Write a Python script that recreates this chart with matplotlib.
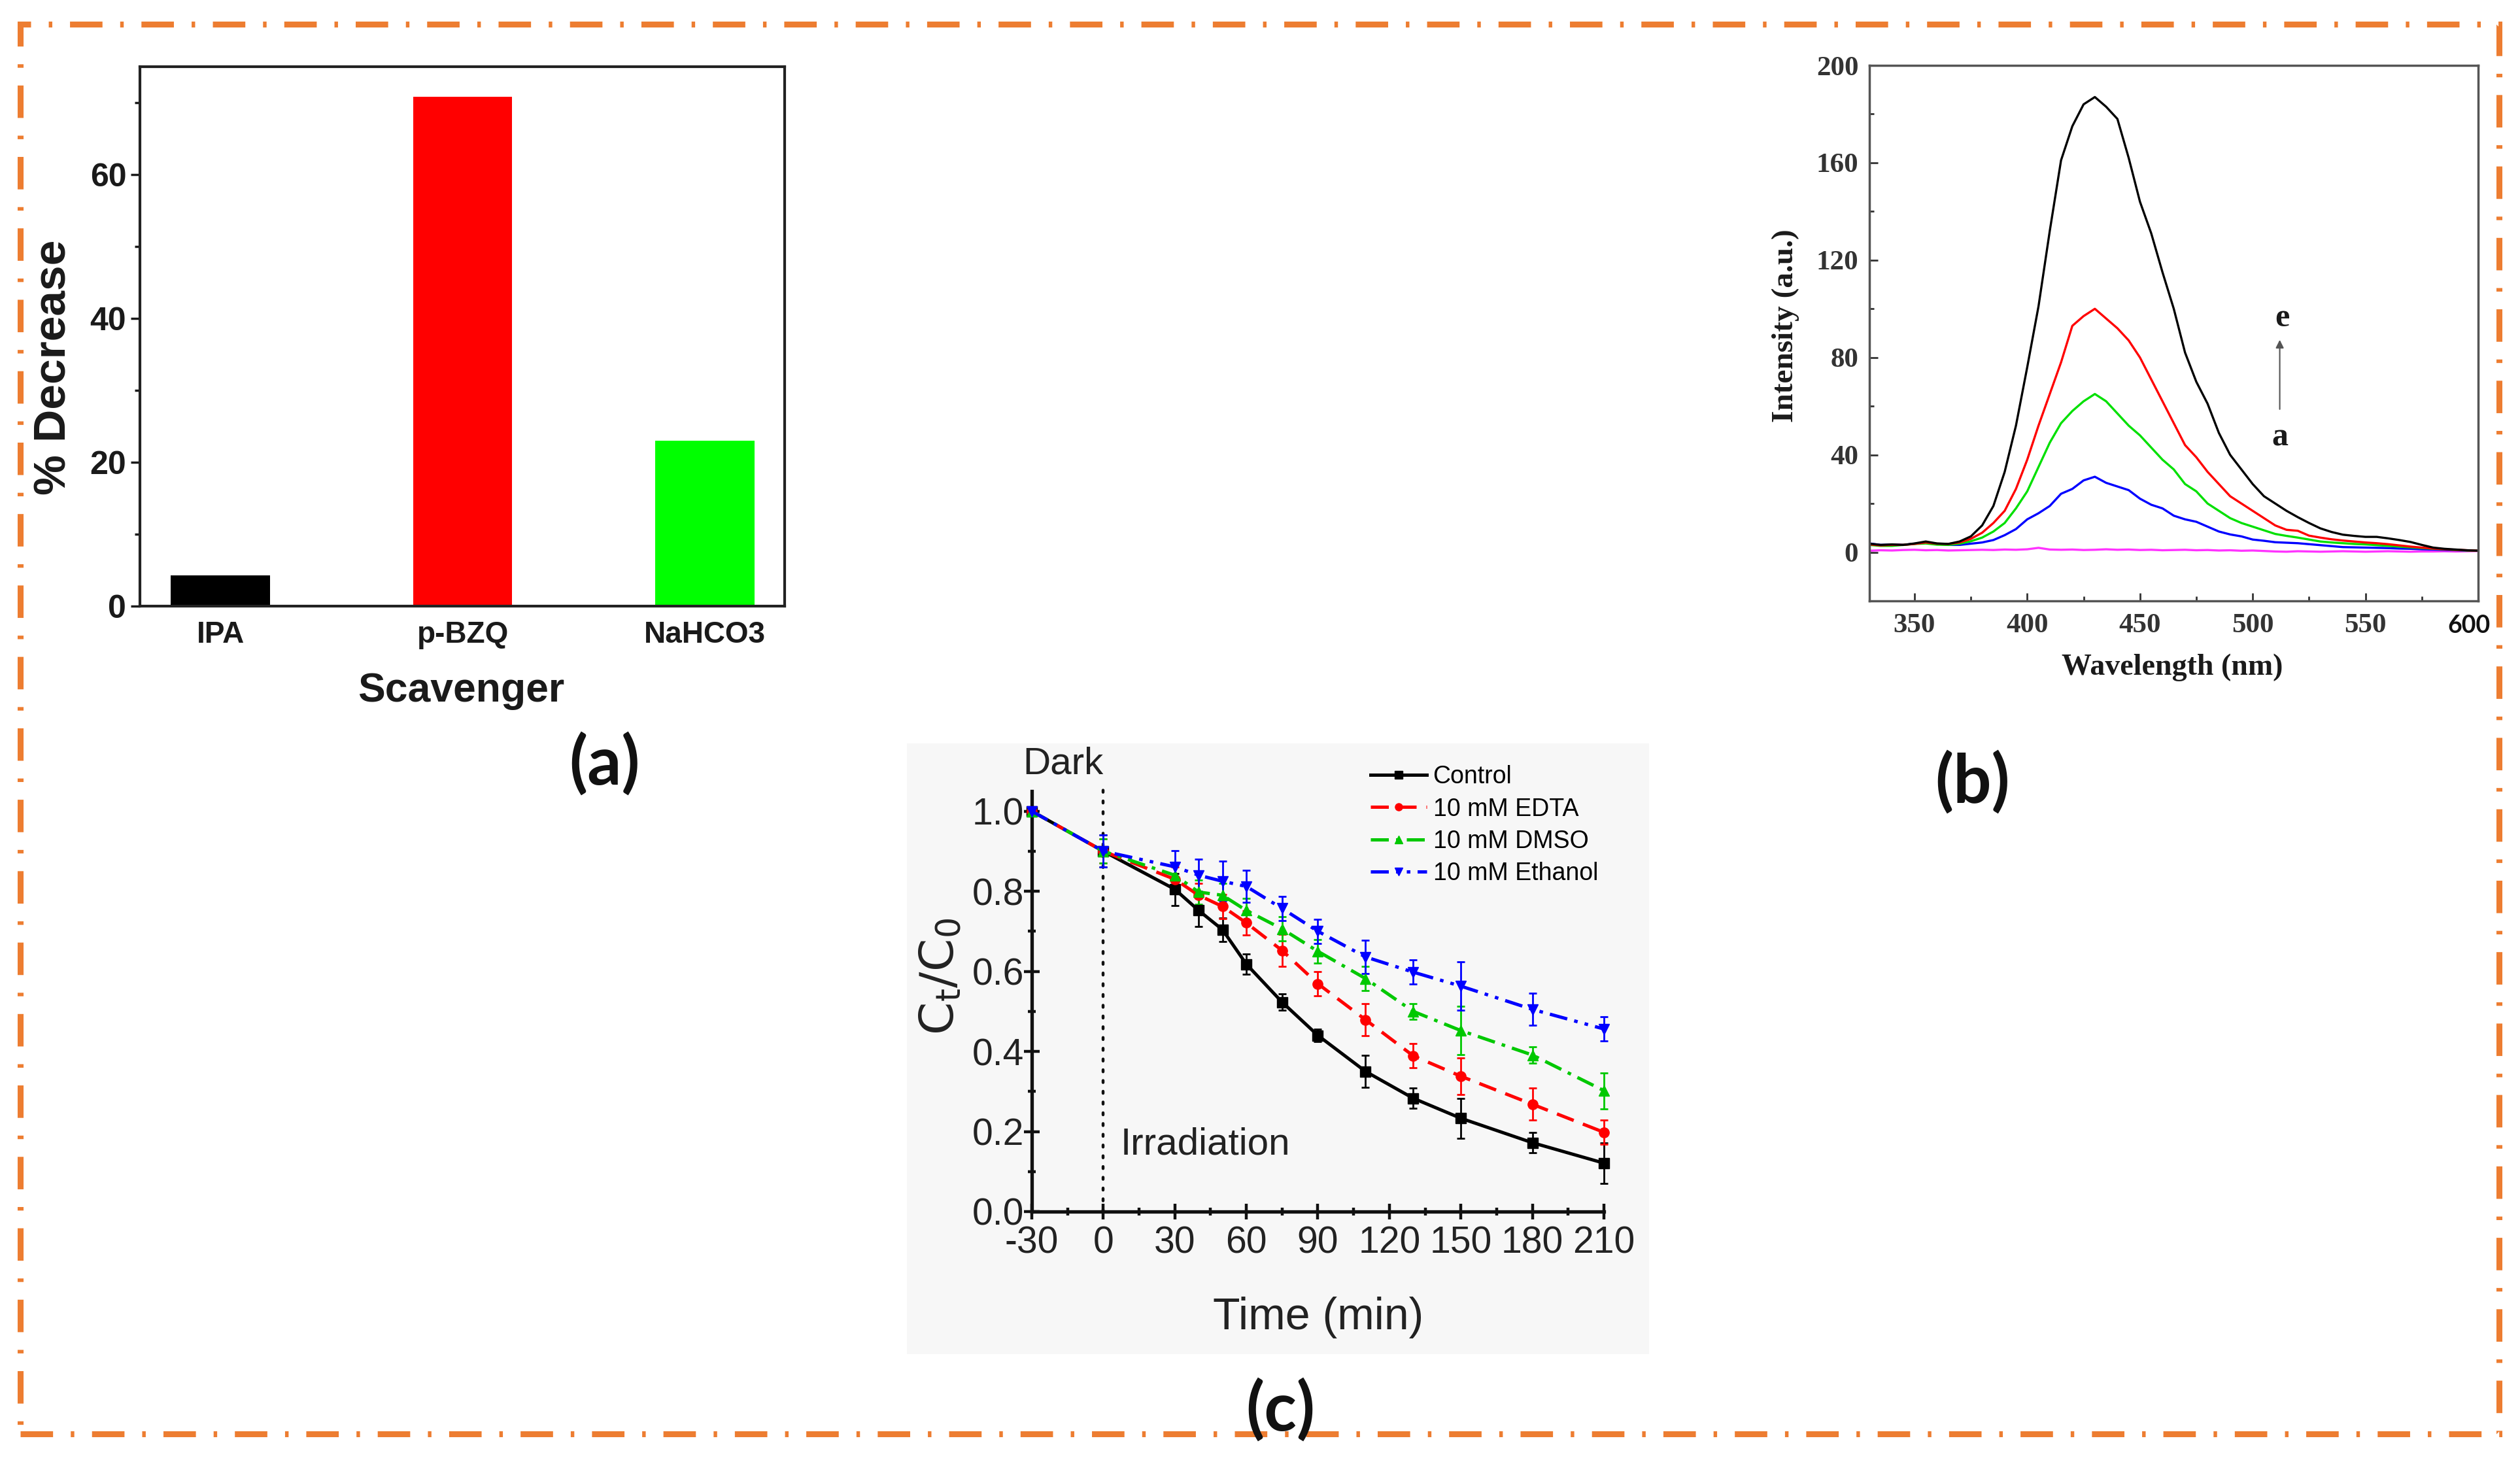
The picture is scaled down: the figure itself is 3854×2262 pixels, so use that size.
import matplotlib
matplotlib.use("Agg")
import matplotlib.pyplot as plt
from matplotlib.patches import Rectangle
from matplotlib.lines import Line2D

# ---------------- data ----------------
# (a) scavenger bar chart
scavengers = ["IPA", "p-BZQ", "NaHCO3"]
pct_decrease = [4.3, 70.8, 23.0]
bar_colors = ["#000000", "#ff0000", "#00ff00"]

# (b) fluorescence spectra a..e
wavelength = [330, 335, 340, 345, 350, 355, 360, 365, 370, 375, 380, 385, 390, 395,
              400, 405, 410, 415, 420, 425, 430, 435, 440, 445, 450, 455, 460, 465,
              470, 475, 480, 485, 490, 495, 500, 505, 510, 515, 520, 525, 530, 535,
              540, 545, 550, 555, 560, 565, 570, 575, 580, 585, 590, 595, 600]
spec_e = [3.5, 3.0, 3.2, 3.0, 3.6, 4.4, 3.6, 3.4, 4.4, 6.5, 11, 19, 33, 52,
          76, 101, 132, 161, 175, 184, 187, 183, 178, 162, 144, 131, 115, 100,
          82, 70, 61, 49, 40, 34, 28, 23, 20, 17, 14.4, 12, 9.8, 8.3,
          7.2, 6.7, 6.3, 6.3, 5.7, 5.0, 4.2, 3.0, 1.9, 1.4, 1.1, 0.8, 0.6]
spec_d = [3.2, 2.8, 3.0, 3.0, 3.4, 4.0, 3.5, 3.4, 4.0, 5.5, 8, 12, 17, 26,
          38, 52, 65, 78, 93, 97, 100, 96, 92, 87, 80, 71, 62, 53,
          44, 39, 33, 28, 23, 20, 17, 14, 11, 9.2, 8.8, 6.8, 6.0, 5.3,
          4.8, 4.4, 4.0, 3.7, 3.3, 2.8, 2.3, 1.9, 1.5, 1.2, 1.0, 0.8, 0.6]
spec_c = [3.0, 2.6, 2.6, 3.0, 3.4, 3.6, 3.1, 3.0, 3.5, 4.5, 6.0, 8.5, 12, 18,
          25, 35, 45, 53, 58, 62, 65, 62, 57, 52, 48, 43, 38, 34,
          28, 25, 20, 17, 14, 12, 10.5, 9.0, 7.5, 6.7, 6.0, 5.2, 4.4, 4.0,
          3.7, 3.4, 3.2, 2.9, 2.6, 2.3, 2.0, 1.7, 1.4, 1.2, 0.9, 0.7, 0.6]
spec_b = [3.6, 3.0, 3.1, 3.0, 3.5, 4.0, 3.4, 3.0, 3.0, 3.5, 4.0, 5.0, 7.0, 9.5,
          13.5, 16, 19, 24, 26, 29.5, 31, 28.5, 27, 25.5, 22, 19.5, 18, 15,
          13.5, 12.5, 10.5, 8.5, 7.3, 6.5, 5.2, 4.7, 4.1, 3.9, 3.7, 3.3, 2.9, 2.5,
          2.1, 2.0, 1.9, 1.8, 1.7, 1.5, 1.4, 1.2, 1.1, 0.9, 0.8, 0.7, 0.6]
spec_a = [0.6, 0.8, 0.7, 0.9, 1.0, 0.8, 0.9, 0.7, 0.8, 0.9, 1.0, 0.9, 1.1, 1.0,
          1.2, 1.8, 1.1, 1.0, 1.1, 0.9, 1.0, 1.2, 1.0, 1.1, 0.9, 1.0, 0.8, 0.9,
          1.0, 0.8, 0.9, 0.7, 0.8, 0.6, 0.7, 0.5, 0.3, 0.2, 0.4, 0.3, 0.2, 0.3,
          0.4, 0.3, 0.2, 0.3, 0.4, 0.3, 0.2, 0.3, 0.3, 0.4, 0.3, 0.4, 0.5]

# (c) degradation kinetics
time_min = [-30, 0, 30, 40, 50, 60, 75, 90, 110, 130, 150, 180, 210]
control = [1.0, 0.90, 0.805, 0.752, 0.704, 0.618, 0.523, 0.44, 0.35, 0.283, 0.233, 0.172, 0.121]
control_err = [0.0, 0.04, 0.04, 0.04, 0.03, 0.025, 0.02, 0.015, 0.04, 0.025, 0.05, 0.025, 0.05]
edta = [1.0, 0.90, 0.83, 0.79, 0.762, 0.721, 0.652, 0.569, 0.479, 0.389, 0.338, 0.268, 0.198]
edta_err = [0.0, 0.03, 0.03, 0.03, 0.03, 0.03, 0.04, 0.03, 0.04, 0.03, 0.045, 0.04, 0.03]
dmso = [1.0, 0.90, 0.84, 0.798, 0.79, 0.752, 0.706, 0.65, 0.582, 0.50, 0.452, 0.391, 0.302]
dmso_err = [0.0, 0.03, 0.03, 0.03, 0.03, 0.03, 0.03, 0.03, 0.03, 0.02, 0.06, 0.02, 0.045]
ethanol = [1.0, 0.90, 0.861, 0.84, 0.825, 0.812, 0.757, 0.70, 0.636, 0.598, 0.563, 0.505, 0.456]
ethanol_err = [0.0, 0.04, 0.04, 0.04, 0.05, 0.04, 0.03, 0.03, 0.042, 0.03, 0.06, 0.04, 0.03]

# ---------------- figure ----------------
W, H = 3855, 2262
DPI = 100
plt.rcParams["mathtext.fontset"] = "custom"
plt.rcParams["mathtext.rm"] = "Liberation Sans"
plt.rcParams["mathtext.it"] = "Liberation Sans:italic"
fig = plt.figure(figsize=(W / DPI, H / DPI), dpi=DPI, facecolor="white")


def rect(l, t, r, b):
    return [l / W, 1 - b / H, (r - l) / W, (b - t) / H]


def ftext(x, y, s, **kw):
    fig.text(x / W, 1 - y / H, s, **kw)


# light background of the pasted (c) picture
fig.add_artist(Rectangle((1387 / W, 1 - 2071 / H), (2522 - 1387) / W, (2071 - 1137) / H,
                         transform=fig.transFigure, facecolor="#f7f7f7",
                         edgecolor="none", zorder=0))

# orange dash-dot frame
fig.add_artist(Rectangle((31 / W, 1 - 2193 / H), (3822 - 31) / W, (2193 - 37) / H,
                         transform=fig.transFigure, fill=False, edgecolor="#ED7D31",
                         linewidth=6.5, linestyle=(0, (5.5, 3.0, 0.6, 3.0)), zorder=1))

# ---------------- (a) ----------------
SANS = "Liberation Sans"
axa = fig.add_axes(rect(214, 102, 1200, 927))
xa = list(range(len(scavengers)))
axa.bar(xa, pct_decrease, width=0.41, color=bar_colors, edgecolor="none", zorder=2)
axa.set_xlim(-0.333, 2.33)
axa.set_ylim(0, 75)
axa.set_xticks(xa, labels=scavengers, fontsize=33, fontweight="bold", fontfamily=SANS)
axa.set_yticks([0, 20, 40, 60], labels=["0", "20", "40", "60"], fontsize=36,
               fontweight="bold", fontfamily=SANS)
axa.set_yticks([10, 30, 50, 70], minor=True)
axa.tick_params(axis="x", length=0, pad=16, colors="#1a1a1a")
axa.tick_params(axis="y", which="major", direction="out", length=10, width=2.5,
                pad=5, colors="#1a1a1a")
axa.tick_params(axis="y", which="minor", direction="out", length=6, width=2.5,
                colors="#1a1a1a")
for sp in axa.spines.values():
    sp.set_linewidth(3)
    sp.set_color("#222222")
ftext(83, 562, "% Decrease", rotation=90, ha="center", va="center", fontsize=50,
      fontweight="bold", fontfamily=SANS, color="#1a1a1a")
ftext(705, 1057, "Scavenger", ha="center", va="center", fontsize=45,
      fontweight="bold", fontfamily=SANS, color="#1a1a1a")

# ---------------- (b) ----------------
SERIF = "Liberation Serif"
axb = fig.add_axes(rect(2859, 100, 3790, 919))
axb.plot(wavelength, spec_a, color="#ff33ff", lw=2.4)
axb.plot(wavelength, spec_b, color="#0000ff", lw=2.4)
axb.plot(wavelength, spec_c, color="#00e000", lw=2.4)
axb.plot(wavelength, spec_d, color="#ff0000", lw=2.4)
axb.plot(wavelength, spec_e, color="#000000", lw=2.4)
axb.set_xlim(330, 600)
axb.set_ylim(-20, 200)
xt = [350, 400, 450, 500, 550]
axb.set_xticks(xt, labels=[str(v) for v in xt], fontsize=31, fontweight="bold",
               fontfamily=SERIF)
axb.set_xticks([375, 425, 475, 525, 575], minor=True)
yt = [0, 40, 80, 120, 160, 200]
axb.set_yticks(yt, labels=[str(v) for v in yt], fontsize=31, fontweight="bold",
               fontfamily=SERIF)
axb.set_yticks([20, 60, 100, 140, 180], minor=True)
axb.tick_params(which="major", direction="in", length=9, width=2, colors="#333333")
axb.tick_params(which="minor", direction="in", length=5, width=2, colors="#333333")
axb.tick_params(axis="x", pad=14)
axb.tick_params(axis="y", pad=12)
for sp in axb.spines.values():
    sp.set_linewidth(2.5)
    sp.set_color("#555555")
axb.text(513, 96, "e", ha="center", va="center", fontsize=36, fontweight="bold",
         fontfamily=SERIF, color="#1a1a1a")
axb.text(512, 47, "a", ha="center", va="center", fontsize=36, fontweight="bold",
         fontfamily=SERIF, color="#1a1a1a")
axb.annotate("", xy=(512, 88), xytext=(512, 58),
             arrowprops=dict(arrowstyle="-|>", color="#555555", lw=1.5,
                             mutation_scale=18))
ftext(3776, 957, "600", ha="center", va="center", fontsize=27, fontweight="bold",
      fontfamily="Lato", color="#111111")
ftext(3322, 1021, "Wavelength (nm)", ha="center", va="center", fontsize=33,
      fontweight="bold", fontfamily=SERIF, color="#1a1a1a")
ftext(2731, 498, "Intensity (a.u.)", rotation=90, ha="center", va="center",
      fontsize=34, fontweight="bold", fontfamily=SERIF, color="#1a1a1a")

# ---------------- (c) ----------------
axc = fig.add_axes(rect(1578, 1210, 2453, 1853))
axc.patch.set_alpha(0)
series = [
    (control, control_err, "#000000", "-", "s", "Control"),
    (edta, edta_err, "#ff0000", (0, (5.5, 3)), "o", "10 mM EDTA"),
    (dmso, dmso_err, "#00c800", (0, (5.5, 2.2, 1.1, 2.2)), "^", "10 mM DMSO"),
    (ethanol, ethanol_err, "#0000ff", (0, (5.5, 2.2, 1.1, 2.2, 1.1, 2.2)), "v",
     "10 mM Ethanol"),
]
handles = []
for vals, errs, col, ls, mk, lab in series:
    axc.errorbar(time_min, vals, yerr=errs, color=col, ecolor=col, elinewidth=2,
                 capsize=4.5, capthick=2, lw=3.6, linestyle=ls, marker=mk,
                 markersize=11, clip_on=False, zorder=3)
    handles.append(Line2D([], [], color=col, lw=3.6, linestyle=ls, marker=mk,
                          markersize=8, label=lab))
axc.axvline(0, ymin=0, ymax=1.07 / 1.05, color="#111111", lw=3.2,
            linestyle=(0, (0.7, 3.0)), dash_capstyle="round", clip_on=False, zorder=2)
axc.set_xlim(-30, 210)
axc.set_ylim(0, 1.05)
xc = [-30, 0, 30, 60, 90, 120, 150, 180, 210]
axc.set_xticks(xc, labels=[str(v) for v in xc], fontsize=41, fontfamily=SANS)
axc.set_xticks([-15, 15, 45, 75, 105, 135, 165, 195], minor=True)
yc = [0.0, 0.2, 0.4, 0.6, 0.8, 1.0]
axc.set_yticks(yc, labels=[f"{v:.1f}" for v in yc], fontsize=41, fontfamily=SANS)
axc.set_yticks([0.1, 0.3, 0.5, 0.7, 0.9], minor=True)
axc.tick_params(which="major", direction="inout", length=17, width=3.2,
                colors="#111111", labelcolor="#222222")
axc.tick_params(which="minor", direction="inout", length=9, width=3.2, colors="#111111")
axc.tick_params(axis="x", pad=7)
axc.tick_params(axis="y", pad=0)
axc.spines["top"].set_visible(False)
axc.spines["right"].set_visible(False)
for s in ("left", "bottom"):
    axc.spines[s].set_linewidth(3.8)
    axc.spines[s].set_color("#111111")
axc.legend(handles=handles, loc="upper left",
           bbox_to_anchor=(2096 / W, 1 - 1170 / H), bbox_transform=fig.transFigure,
           frameon=False, handlelength=2.3, handletextpad=0.25,
           labelspacing=0.36, borderpad=0, borderaxespad=0,
           prop={"family": SANS, "size": 27})
ftext(1626, 1168, "Dark", ha="center", va="center", fontsize=42, fontfamily=SANS,
      color="#222222")
ftext(1714, 1750, "Irradiation", ha="left", va="center", fontsize=42,
      fontfamily=SANS, color="#222222")
ftext(2016, 2015, "Time (min)", ha="center", va="center", fontsize=49,
      fontfamily=SANS, color="#222222")
ftext(1438, 1493, r"$\mathregular{C_t/C_0}$", rotation=90, ha="center", va="center",
      fontsize=52, color="#222222")

# ---------------- panel letters ----------------
for s, x, y in (("(a)", 925, 1168), ("(b)", 3017, 1196), ("(c)", 1958, 2156)):
    ftext(x, y, s, ha="center", va="center", fontsize=74, fontweight="bold",
          fontfamily="Lato", color="#111111")

fig.savefig("out.png", dpi=DPI, facecolor="white")
